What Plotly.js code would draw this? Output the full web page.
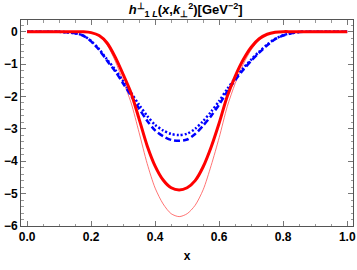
<!DOCTYPE html>
<html>
<head>
<meta charset="utf-8">
<script src="https://cdn.plot.ly/plotly-3.0.1.min.js"></script>
<style>html,body{margin:0;padding:0;background:#fff;}#chart{width:357px;height:270px;}</style>
</head>
<body>
<div id="chart"></div>
<script>
const xs = [0,0.025,0.05,0.075,0.1,0.125,0.15,0.175,0.2,0.225,0.25,0.275,0.3,0.325,0.35,0.375,0.4,0.425,0.45,0.475,0.5,0.525,0.55,0.575,0.6,0.625,0.65,0.675,0.7,0.725,0.75,0.775,0.8,0.825,0.85,0.875,0.9,0.925,0.95,0.975,1];
const redThick = [0,0,0,0,0,0,0,-0.005,-0.03,-0.12,-0.35,-0.78,-1.32,-1.9,-2.7,-3.52,-4.15,-4.58,-4.82,-4.89,-4.82,-4.6,-4.17,-3.56,-2.82,-2.0,-1.38,-0.87,-0.48,-0.22,-0.08,-0.02,0,0,0,0,0,0,0,0,0];
const redThin = [0,0,0,0,0,0,0,-0.005,-0.035,-0.14,-0.41,-0.9,-1.53,-2.2,-3.12,-4.07,-4.83,-5.32,-5.62,-5.71,-5.62,-5.36,-4.88,-4.13,-3.27,-2.32,-1.6,-1.01,-0.56,-0.26,-0.09,-0.02,0,0,0,0,0,0,0,0,0];
const blueDash = [0,0,0,0,-0.005,-0.02,-0.05,-0.12,-0.3,-0.56,-0.9,-1.22,-1.6,-1.98,-2.38,-2.75,-3.05,-3.23,-3.34,-3.37,-3.33,-3.16,-2.9,-2.6,-2.25,-1.85,-1.5,-1.18,-0.9,-0.65,-0.42,-0.23,-0.12,-0.05,-0.01,0,0,0,0,0,0];
const blueDot = [0,0,0,0,-0.005,-0.02,-0.05,-0.12,-0.29,-0.54,-0.86,-1.17,-1.53,-1.89,-2.26,-2.6,-2.88,-3.05,-3.16,-3.19,-3.15,-3.0,-2.76,-2.47,-2.14,-1.77,-1.44,-1.13,-0.86,-0.62,-0.4,-0.22,-0.11,-0.05,-0.01,0,0,0,0,0,0];
const xTicks = [0,0.2,0.4,0.6,0.8,1.0];
const xTickText = ['0.0','0.2','0.4','0.6','0.8','1.0'];
const yTicks = [0,-1,-2,-3,-4,-5,-6];
const yTickText = ['0','−1','−2','−3','−4','−5','−6'];

const sm = 0.8;
const traces = [
  {x: xs, y: redThin, mode:'lines', line:{color:'#ff5050', width:0.8, shape:'spline', smoothing:sm}},
  {x: xs, y: blueDot, mode:'lines', line:{color:'#0000ff', width:2.5, dash:'2px,2px', shape:'spline', smoothing:sm}},
  {x: xs, y: blueDash, mode:'lines', line:{color:'#0000ff', width:2.5, dash:'6px,3px', shape:'spline', smoothing:sm}},
  {x: xs, y: redThick, mode:'lines', line:{color:'#ff0000', width:3, shape:'spline', smoothing:sm}}
];
const bold = a => a.map(t => '<b>' + t + '</b>');
const fnt = {family:'Liberation Sans, Arial, sans-serif', size:12, color:'#000'};
const axCommon = {
  showgrid:false, zeroline:false, showline:true, mirror:'allticks',
  linecolor:'#555', linewidth:1, ticks:'inside', ticklen:5, tickwidth:1, tickcolor:'#777',
  tickfont:fnt
};
const layout = {
  width:357, height:270,
  margin:{l:21, r:4, t:20, b:44},
  paper_bgcolor:'#fff', plot_bgcolor:'#fff',
  showlegend:false,
  title:{text:'<b><i>h</i><sup>⊥</sup><sub>1 <i>L</i></sub>(<i>x</i>,<i>k</i><sub>⊥</sub><sup>2</sup>)[GeV<sup>−2</sup>]</b>',
    font:{family:'Liberation Sans, Arial, sans-serif', size:13, color:'#000'},
    x:0.52, xanchor:'center', y:0.965, yanchor:'middle'},
  xaxis: Object.assign({}, axCommon, {range:[-0.019,1.018], tickvals:xTicks, ticktext:bold(xTickText),
    minor:{dtick:0.05, tick0:0, ticks:'inside', ticklen:2.5, tickcolor:'#999', showgrid:false},
    title:{text:'<b>x</b>', font:fnt, standoff:8}}),
  yaxis: Object.assign({}, axCommon, {range:[-6,0.36], tickvals:yTicks, ticktext:bold(yTickText),
    minor:{dtick:0.2, tick0:0, ticks:'inside', ticklen:2.5, tickcolor:'#999', showgrid:false}})
};
Plotly.newPlot('chart', traces, layout, {displayModeBar:false, staticPlot:true});
</script>
</body>
</html>
